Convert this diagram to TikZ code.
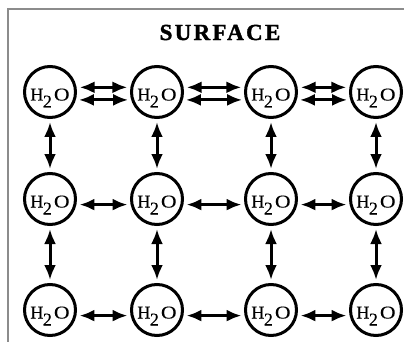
\documentclass[tikz,border=0pt]{standalone}
\usepackage{fontspec}
\setmainfont{Liberation Serif}
\usetikzlibrary{positioning,arrows.meta}
\definecolor{framegray}{RGB}{140,140,140}
\newcommand{\water}{\raisebox{-8.5pt}[0pt][0pt]{H\kern-0.5pt\raisebox{-7pt}{2}\kern2pt\scalebox{1.2}[1]{O}}}
\begin{document}
\begin{tikzpicture}[node distance=107pt,
  molecule/.style={circle,draw,line width=3pt,minimum size=51pt,inner sep=0pt,font=\fontsize{18}{19}\selectfont\addfontfeatures{FakeBold=0.3}},
  bond/.style={{Latex[length=15pt,width=12pt]}-{Latex[length=15pt,width=12pt]},line width=3pt,shorten <=3pt,shorten >=3pt}]
  \useasboundingbox (0,0) rectangle (404pt,-342pt);
  \draw [framegray,line width=2pt] (8pt,-342pt) -- (8pt,-9pt) -- (404pt,-9pt);

  % Define nodes
  \node (surface) at (220pt,-32.5pt) {\fontsize{23}{24}\selectfont\bfseries\addfontfeatures{LetterSpace=10,FakeBold=1.5}SURFACE};
  \node (w11) [molecule] at (50pt,-92pt) {\water};
  \node (w12) [molecule,right of=w11] {\water};
  \node (w13) [molecule,right of=w12,xshift=7pt] {\water};
  \node (w14) [molecule,right of=w13,xshift=-2pt] {\water};
  \node (w21) [molecule,below of=w11] {\water};
  \node (w22) [molecule,below of=w12] {\water};
  \node (w23) [molecule,below of=w13] {\water};
  \node (w24) [molecule,below of=w14] {\water};
  \node (w31) [molecule,below of=w21,yshift=-4pt] {\water};
  \node (w32) [molecule,below of=w22,yshift=-4pt] {\water};
  \node (w33) [molecule,below of=w23,yshift=-4pt] {\water};
  \node (w34) [molecule,below of=w24,yshift=-4pt] {\water};

  % Draw edges
  \draw [bond] (w11.10) -- (w12.170);
  \draw [bond] (w11.-17) -- (w12.197);
  \draw [bond] (w12.10) -- (w13.170);
  \draw [bond] (w12.-17) -- (w13.197);
  \draw [bond] (w13.10) -- (w14.170);
  \draw [bond] (w13.-17) -- (w14.197);
  \draw [bond] (w21.-12) -- (w22.192);
  \draw [bond] (w22.-12) -- (w23.192);
  \draw [bond] (w23.-12) -- (w24.192);
  \draw [bond] (w31.-12) -- (w32.192);
  \draw [bond] (w32.-12) -- (w33.192);
  \draw [bond] (w33.-12) -- (w34.192);
  \draw [bond] (w11) -- (w21);
  \draw [bond] (w12) -- (w22);
  \draw [bond] (w13) -- (w23);
  \draw [bond] (w14) -- (w24);
  \draw [bond] (w21) -- (w31);
  \draw [bond] (w22) -- (w32);
  \draw [bond] (w23) -- (w33);
  \draw [bond] (w24) -- (w34);
\end{tikzpicture}
\end{document}
